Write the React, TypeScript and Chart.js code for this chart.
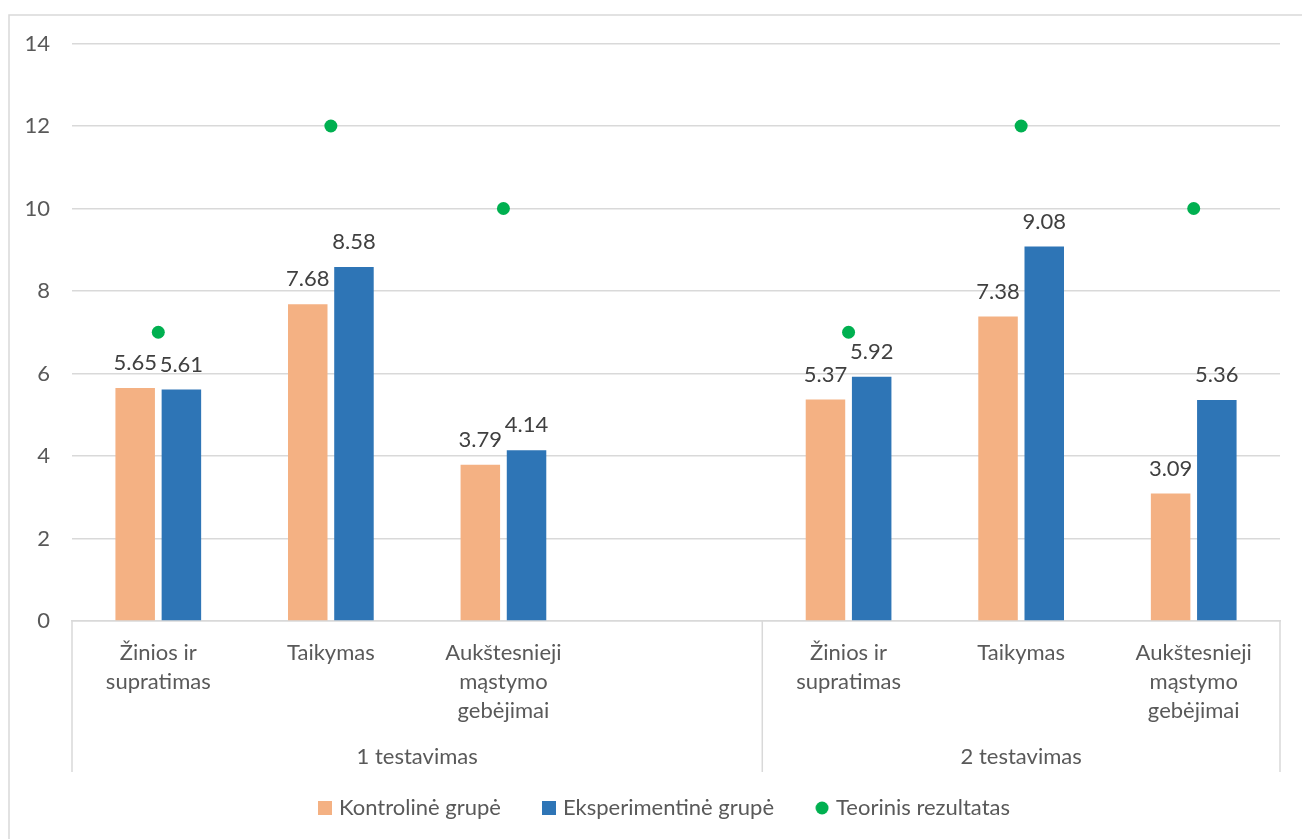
import React, { useEffect, useRef } from "react";
import { Chart, registerables } from "chart.js";

Chart.register(...registerables);

// Categories along the x axis; the empty slot separates the two test rounds.
const categories: (string | string[])[] = [
  ["Žinios ir", "supratimas"],
  "Taikymas",
  ["Aukštesnieji", "mąstymo", "gebėjimai"],
  "",
  ["Žinios ir", "supratimas"],
  "Taikymas",
  ["Aukštesnieji", "mąstymo", "gebėjimai"],
];

// Group captions under the category labels and how many categories each spans.
const groupLabels = ["1 testavimas", "2 testavimas"];
const groupSizes = [4, 3];

const seriesNames = ["Kontrolinė grupė", "Eksperimentinė grupė", "Teorinis rezultatas"];
const kontroline = [5.65, 7.68, 3.79, null, 5.37, 7.38, 3.09];
const eksperimentine = [5.61, 8.58, 4.14, null, 5.92, 9.08, 5.36];
const teorinis = [7, 12, 10, null, 7, 12, 10];

const yTicks = [0, 2, 4, 6, 8, 10, 12, 14];

const COLORS = {
  orange: "#F4B183",
  blue: "#2E75B6",
  green: "#00B050",
  grid: "#D9D9D9",
  text: "#595959",
  label: "#404040",
};
const FONT = "Lato";
const FONT_SIZE = 22;

function swatch(color: string, round: boolean): HTMLCanvasElement {
  const c = document.createElement("canvas");
  c.width = 14;
  c.height = 14;
  const g = c.getContext("2d")!;
  g.fillStyle = color;
  if (round) {
    g.beginPath();
    g.arc(7, 7, 6.5, 0, Math.PI * 2);
    g.fill();
  } else {
    g.fillRect(0, 0, 14, 14);
  }
  return c;
}

// Outer frame of the chart object.
const framePlugin = {
  id: "frame",
  beforeDraw(chart: any) {
    const ctx = chart.ctx;
    ctx.save();
    ctx.strokeStyle = COLORS.grid;
    ctx.lineWidth = 1.5;
    ctx.strokeRect(9, 15, chart.width + 100, chart.height + 100);
    ctx.restore();
  },
};

// Centre the legend under the plot area rather than the whole canvas.
const legendShiftPlugin = {
  id: "legendShift",
  afterLayout(chart: any) {
    const l = chart.legend;
    if (!l) return;
    const shift = 26;
    l.left += shift;
    l.right += shift;
  },
};

// Value labels above each bar.
const valueLabelPlugin = {
  id: "valueLabels",
  afterDatasetsDraw(chart: any) {
    const ctx = chart.ctx;
    ctx.save();
    ctx.font = `${FONT_SIZE}px ${FONT}`;
    ctx.fillStyle = COLORS.label;
    ctx.textAlign = "center";
    ctx.textBaseline = "middle";
    [0, 1].forEach((di) => {
      const meta = chart.getDatasetMeta(di);
      const data = chart.data.datasets[di].data;
      meta.data.forEach((el: any, i: number) => {
        const v = data[i];
        if (v === null || v === undefined) return;
        ctx.fillText(Number(v).toFixed(2), el.x, el.y - 25);
      });
    });
    ctx.restore();
  },
};

// Multi-level category axis: separators and group captions.
const groupAxisPlugin = {
  id: "groupAxis",
  afterDraw(chart: any) {
    const ctx = chart.ctx;
    const x = chart.scales.x;
    const top = chart.chartArea.bottom;
    const lineBottom = 772;
    const half = (x.getPixelForTick(1) - x.getPixelForTick(0)) / 2;
    const bounds: number[] = [x.getPixelForTick(0) - half];
    let idx = 0;
    groupSizes.forEach((n) => {
      idx += n;
      bounds.push(x.getPixelForTick(idx - 1) + half);
    });
    ctx.save();
    ctx.strokeStyle = COLORS.grid;
    ctx.lineWidth = 1.5;
    bounds.forEach((bx) => {
      ctx.beginPath();
      ctx.moveTo(bx, top);
      ctx.lineTo(bx, lineBottom);
      ctx.stroke();
    });
    ctx.font = `${FONT_SIZE}px ${FONT}`;
    ctx.fillStyle = COLORS.text;
    ctx.textAlign = "center";
    ctx.textBaseline = "middle";
    groupLabels.forEach((g, i) => {
      ctx.fillText(g, (bounds[i] + bounds[i + 1]) / 2, 757);
    });
    ctx.restore();
  },
};

export default function App() {
  const ref = useRef<HTMLCanvasElement | null>(null);

  useEffect(() => {
    if (!ref.current) return;
    const swatches = [
      swatch(COLORS.orange, false),
      swatch(COLORS.blue, false),
      swatch(COLORS.green, true),
    ];
    const chart = new Chart(ref.current, {
      type: "bar",
      data: {
        labels: categories as any,
        datasets: [
          {
            type: "bar",
            label: seriesNames[0],
            data: kontroline as any,
            backgroundColor: COLORS.orange,
            categoryPercentage: 0.5355,
            barPercentage: 0.855,
          },
          {
            type: "bar",
            label: seriesNames[1],
            data: eksperimentine as any,
            backgroundColor: COLORS.blue,
            categoryPercentage: 0.5355,
            barPercentage: 0.855,
          },
          {
            type: "line",
            label: seriesNames[2],
            data: teorinis as any,
            showLine: false,
            pointRadius: 6.5,
            pointHoverRadius: 6.5,
            pointBorderWidth: 0,
            pointBackgroundColor: COLORS.green,
            backgroundColor: COLORS.green,
            borderColor: COLORS.green,
          } as any,
        ],
      },
      options: {
        responsive: false,
        animation: false,
        events: [],
        layout: { padding: { left: 0, right: 22, top: 43.5, bottom: 10 } },
        scales: {
          x: {
            offset: true,
            grid: { display: false, drawTicks: false },
            border: { display: true, color: COLORS.grid, width: 1.5 },
            ticks: {
              color: COLORS.text,
              font: { family: FONT, size: FONT_SIZE, lineHeight: 29 / FONT_SIZE },
              padding: 17,
              maxRotation: 0,
              minRotation: 0,
              autoSkip: false,
            },
            afterFit(scale: any) {
              scale.height = 131;
            },
          },
          y: {
            min: yTicks[0],
            max: yTicks[yTicks.length - 1],
            afterBuildTicks(scale: any) {
              scale.ticks = yTicks.map((v) => ({ value: v }));
            },
            grid: { color: COLORS.grid, lineWidth: 1.5, drawTicks: false },
            border: { display: false },
            ticks: {
              color: COLORS.text,
              font: { family: FONT, size: FONT_SIZE },
              padding: 22,
            },
            afterFit(scale: any) {
              scale.width = 72;
            },
          },
        },
        plugins: {
          tooltip: { enabled: false },
          legend: {
            position: "bottom",
            labels: {
              usePointStyle: true,
              boxWidth: 6,
              boxHeight: 14,
              padding: 45,
              color: COLORS.text,
              font: { family: FONT, size: FONT_SIZE },
              generateLabels(c: any) {
                const items = Chart.defaults.plugins.legend.labels.generateLabels(c);
                return items.map((it: any, i: number) => ({
                  ...it,
                  pointStyle: swatches[i],
                }));
              },
            },
          },
        },
      },
      plugins: [framePlugin, legendShiftPlugin, valueLabelPlugin, groupAxisPlugin],
    });
    return () => chart.destroy();
  }, []);

  return (
    <div style={{ position: "fixed", left: 0, top: 0, width: 1302, height: 839, background: "#fff" }}>
      <canvas ref={ref} width={1302} height={839} style={{ display: "block" }} />
    </div>
  );
}
